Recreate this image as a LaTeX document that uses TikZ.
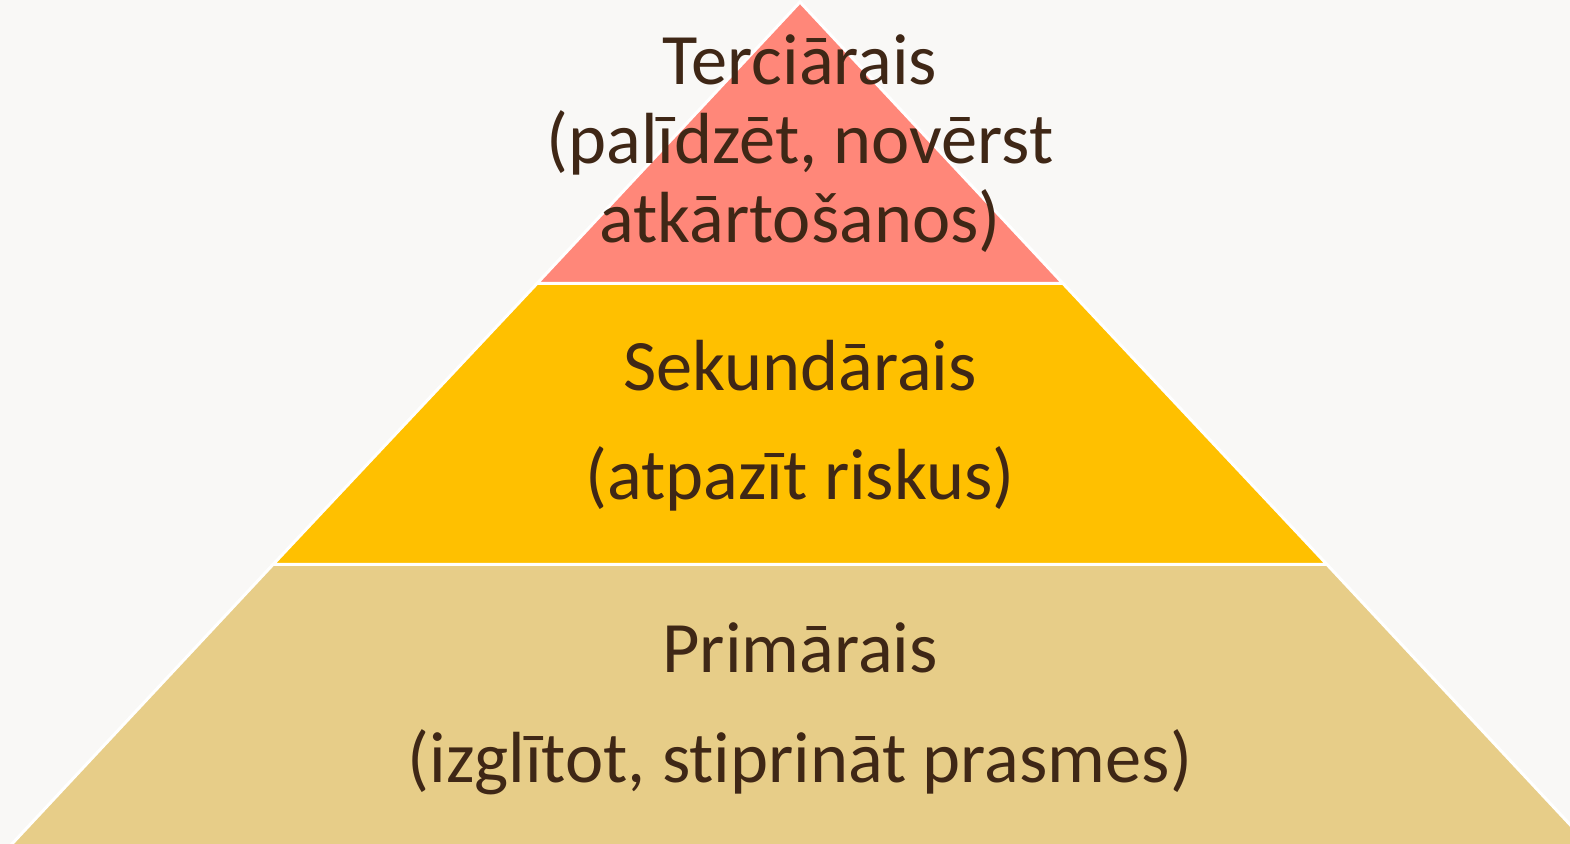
\documentclass[tikz,border=0pt]{standalone}
\usepackage{fontspec}
\setmainfont{Carlito}[Ligatures={NoCommon}]
\definecolor{bgc}{HTML}{F9F8F6}
\definecolor{topc}{HTML}{FF8779}
\definecolor{midc}{HTML}{FFC000}
\definecolor{botc}{HTML}{E7CD88}
\definecolor{txtc}{HTML}{3F2716}
\begin{document}
\begin{tikzpicture}[x=0.5pt,y=-0.5pt,
  layer/.style={draw=white,line width=1.5pt,line join=miter},
  lbl/.style={anchor=base,inner sep=0pt,text=txtc,font=\fontsize{36.2}{40}\selectfont}]
\useasboundingbox (0,0) rectangle (1570,844);
\clip (0,0) rectangle (1570,844);
\fill[bgc] (0,0) rectangle (1570,844);
% layers
\path[layer,fill=botc] (273,564.5) -- (1327,564.5) -- (1590,846) -- (10,846) -- cycle;
\path[layer,fill=midc] (537,283.5) -- (1063,283.5) -- (1327,564.5) -- (273,564.5) -- cycle;
\path[layer,fill=topc] (800,2) -- (1063,283.5) -- (537,283.5) -- cycle;
% labels
\node[lbl] (t1) at (800,85) {Terciārais};
\node[lbl] (t2) at (800,164) {(palīdzēt, novērst};
\node[lbl] (t3) at (800,243) {atkārtošanos)};
\node[lbl] (s1) at (800,391) {Sekundārais};
\node[lbl] (s2) at (800,500) {(atpazīt riskus)};
\node[lbl] (p1) at (800,672) {Primārais};
\node[lbl] (p2) at (800,782) {(izglītot, stiprināt prasmes)};
\end{tikzpicture}
\end{document}
